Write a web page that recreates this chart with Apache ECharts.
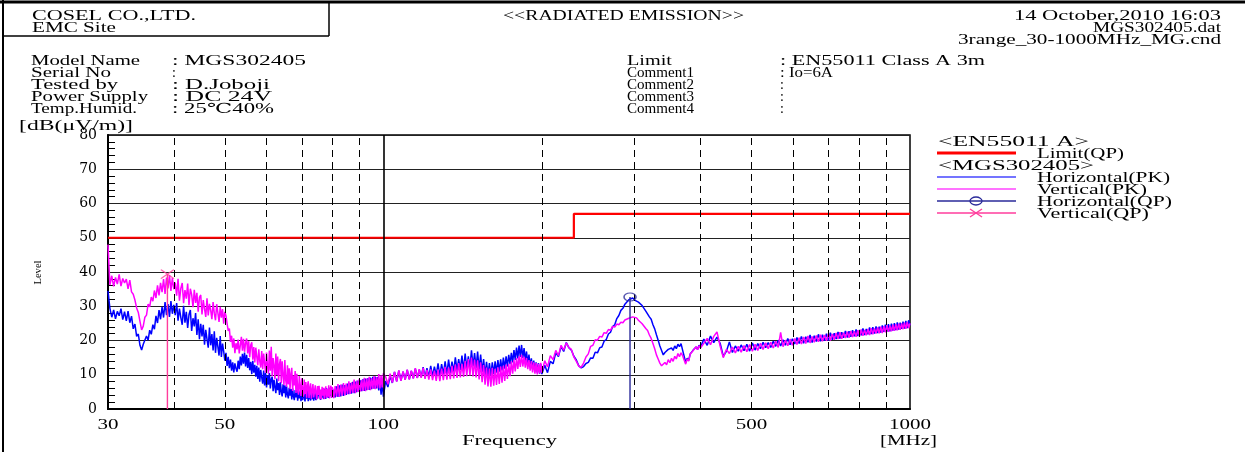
<!DOCTYPE html>
<html><head><meta charset="utf-8">
<script src="https://cdn.jsdelivr.net/npm/echarts/dist/echarts.min.js"></script>
<style>html,body{margin:0;padding:0;background:#fff;overflow:hidden}#c{width:1245px;height:452px}</style>
</head><body><div id="c"></div><script>
// Sweep frequencies [MHz]
const freqs = [
30,30.25,30.5,30.75,31,31.25,31.5,31.75,32,32.25,32.5,32.75,33,33.25,33.5,33.75,34,34.25,34.5,34.75,35,35.25,35.5,35.75,36,36.25,36.5,36.75,37,37.25,37.5,37.75,38,38.25,38.5,38.75,39,39.25,39.5,39.75,40,
40.25,40.5,40.75,41,41.25,41.5,41.75,42,42.25,42.5,42.75,43,43.25,43.5,43.75,44,44.25,44.5,44.75,45,
45.25,45.5,45.75,46,46.25,46.5,46.75,47,47.25,47.5,47.75,48,48.25,48.5,48.75,49,49.25,49.5,49.75,50,
50.25,50.5,50.75,51,51.25,51.5,51.75,52,52.25,52.5,52.75,53,53.25,53.5,53.75,54,54.25,54.5,54.75,55,
55.25,55.5,55.75,56,56.25,56.5,56.75,57,57.25,57.5,57.75,58,58.25,58.5,58.75,59,59.25,59.5,59.75,60,
60.25,60.5,60.75,61,61.25,61.5,61.75,62,62.25,62.5,62.75,63,63.25,63.5,63.75,64,64.25,64.5,64.75,65,
65.25,65.5,65.75,66,66.25,66.5,66.75,67,67.25,67.5,67.75,68,68.25,68.5,68.75,69,69.25,69.5,69.75,70,
70.25,70.5,70.75,71,71.25,71.5,71.75,72,72.25,72.5,72.75,73,73.25,73.5,73.75,74,74.25,74.5,74.75,75,
75.25,75.5,75.75,76,76.25,76.5,76.75,77,77.25,77.5,77.75,78,78.25,78.5,78.75,79,79.25,79.5,79.75,80,
80.5,81,81.5,82,82.5,83,83.5,84,84.5,85,85.5,86,86.5,87,87.5,88,88.5,89,89.5,90,
90.5,91,91.5,92,92.5,93,93.5,94,94.5,95,95.5,96,96.5,97,97.5,98,98.5,99,99.5,100,
101,102,103,104,105,106,107,108,109,110,111,112,113,114,115,116,117,118,119,120,
121,122,123,124,125,126,127,128,129,130,131,132,133,134,135,136,137,138,139,140,
141,142,143,144,145,146,147,148,149,150,151,152,153,154,155,156,157,158,159,160,
161,162,163,164,165,166,167,168,169,170,171,172,173,174,175,176,177,178,179,180,
181,182,183,184,185,186,187,188,189,190,191,192,193,194,195,196,197,198,199,200,
202.5,205,207.5,210,212.5,215,217.5,220,222.5,225,227.5,230,232.5,235,237.5,240,242.5,245,247.5,250,
252.5,255,257.5,260,262.5,265,267.5,270,272.5,275,277.5,280,282.5,285,287.5,290,292.5,295,297.5,300,
302.5,305,307.5,310,312.5,315,317.5,320,322.5,325,327.5,330,332.5,335,337.5,340,342.5,345,347.5,350,
352.5,355,357.5,360,362.5,365,367.5,370,372.5,375,377.5,380,382.5,385,387.5,390,392.5,395,397.5,400,
406,412,418,424,430,436,442,448,454,460,466,472,478,484,490,496,502,508,514,520,
526,532,538,544,550,556,562,568,574,580,586,592,598,604,610,616,622,628,634,640,
646,652,658,664,670,676,682,688,694,700,706,712,718,724,730,736,742,748,754,760,
766,772,778,784,790,796,802,808,814,820,826,832,838,844,850,856,862,868,874,880,
886,892,898,904,910,916,922,928,934,940,946,952,958,964,970,976,982,988,994,1000
];
// Horizontal(PK) [dB(uV/m)]
const hPK = [
34.5,29.4,26.8,28.9,26.3,28.5,27.2,29.3,26.1,28.4,25.7,28.6,25.2,27.1,23.4,24.8,21.2,21.9,18.6,17.2,18.9,18.4,21.3,20.1,23.0,21.8,24.6,23.3,27.2,25.1,28.9,26.2,29.8,26.7,31.2,27.4,30.6,26.9,31.5,27.8,30.4,
27.4,30.9,25.8,29.3,26.7,24.6,30.1,25.2,28.4,23.7,27.6,28.9,22.8,26.5,24.1,28.0,21.6,26.2,20.4,24.9,
21.2,24.6,18.8,23.1,20.4,17.9,23.8,18.6,21.9,17.1,22.7,16.4,20.8,18.2,15.6,21.3,15.2,19.1,16.8,14.1,
16.4,12.6,15.2,11.9,14.4,11.2,13.6,10.7,13.3,11.8,10.9,14.1,11.6,15.3,12.7,16.1,13.2,16.5,12.4,15.8,
12.0,14.9,11.3,13.8,10.2,14.1,10.6,12.9,9.4,12.6,8.8,12.1,8.0,11.4,9.2,7.4,11.2,6.9,10.6,6.3,
9.8,7.1,10.5,6.0,8.7,9.4,5.2,8.5,6.3,4.6,8.9,5.5,7.6,4.1,7.9,5.0,3.7,7.2,4.6,6.9,
3.4,6.6,4.2,3.1,6.2,3.9,5.8,2.8,6.0,3.6,2.6,5.5,3.4,5.7,2.4,4.8,3.1,5.4,2.3,4.9,
2.6,5.3,3.4,2.2,5.0,3.0,5.4,2.3,4.6,3.3,2.5,5.2,2.9,4.7,2.4,5.5,3.2,2.6,5.1,3.0,
2.5,5.4,3.5,2.7,5.6,3.3,5.2,2.9,5.9,3.6,3.0,6.1,3.4,5.5,3.2,6.2,3.8,6.4,3.3,6.0,
6.4,3.4,6.6,3.5,6.9,3.7,7.1,3.8,7.0,4.1,7.4,4.3,7.6,4.5,7.9,4.6,8.0,4.9,8.3,5.0,
8.4,5.2,8.7,5.3,8.9,5.5,9.0,5.6,9.2,5.8,9.4,5.9,9.5,6.0,9.3,5.4,8.8,4.2,7.9,3.6,
8.2,6.4,9.6,7.6,10.8,8.1,11.2,8.3,10.9,8.6,11.4,8.7,11.1,9.0,11.8,9.1,11.5,9.3,12.2,9.2,
11.9,9.4,12.6,9.6,12.4,9.8,13.3,9.7,13.1,10.2,13.9,10.1,14.4,10.5,13.8,10.9,15.1,11.2,14.6,11.4,
15.6,11.3,16.2,11.8,15.4,12.1,17.1,12.4,16.3,12.0,16.8,11.5,15.9,10.8,14.6,9.9,13.8,9.6,13.4,9.7,
13.6,10.2,13.9,10.6,14.3,10.9,14.5,11.3,15.0,11.8,15.4,12.4,15.8,13.1,16.4,13.6,17.2,14.3,17.9,14.8,
18.5,15.2,18.7,14.9,17.8,14.1,16.8,13.2,15.9,12.3,14.8,11.6,14.1,11.0,13.6,10.6,13.4,10.3,13.1,10.2,
12.8,10.6,13.9,13.2,16.4,15.3,18.2,16.8,19.4,17.9,17.2,15.4,14.3,12.6,12.0,12.4,13.3,13.6,14.9,14.8,
16.6,16.4,17.9,18.1,19.8,20.3,21.9,22.4,24.1,24.6,26.4,27.3,28.8,29.4,30.6,31.1,31.9,31.6,32.4,31.8,
32.1,31.2,31.0,30.2,29.8,28.6,28.1,26.9,26.2,24.6,23.4,21.7,20.1,18.4,17.1,15.8,16.5,16.2,17.4,16.9,
17.8,17.1,18.4,17.6,18.9,18.2,19.1,17.2,15.4,13.6,14.8,14.2,16.1,15.6,17.2,16.7,18.1,17.4,18.6,18.0,
20.4,18.6,21.3,19.4,21.0,19.2,15.4,16.8,19.6,16.5,18.4,16.9,18.7,17.0,18.9,16.9,19.3,17.2,19.1,17.6,
19.5,17.9,19.4,18.0,19.8,18.3,20.1,18.4,20.2,18.6,20.6,18.8,20.5,19.0,20.9,19.1,21.2,19.2,21.1,19.5,
21.6,19.4,21.4,19.7,21.8,19.8,21.7,19.9,22.0,20.0,22.3,20.2,22.1,20.4,22.5,20.6,22.4,20.8,22.8,20.9,
22.7,21.1,23.0,21.2,23.2,21.3,23.1,21.5,23.5,21.6,23.4,21.8,23.8,21.9,23.9,22.0,24.1,22.2,24.0,22.3,
24.4,22.5,24.6,22.6,24.8,22.7,24.9,22.9,25.1,23.0,25.3,23.2,25.2,23.4,25.5,23.5,25.7,23.6,25.9,24.4
];
// Vertical(PK) [dB(uV/m)]
const vPK = [
48.0,36.2,38.9,35.8,38.4,36.5,39.3,35.9,38.1,36.8,37.9,35.1,37.6,34.2,33.5,31.8,29.5,28.2,25.6,23.1,24.2,26.8,27.4,30.6,29.8,32.7,31.5,34.6,32.4,36.1,33.2,36.8,34.1,37.9,33.6,38.4,35.2,39.1,34.5,38.2,35.0,
36.9,33.1,38.0,31.6,35.2,36.8,30.9,34.7,32.2,36.6,30.3,35.1,33.4,29.7,34.8,31.0,33.9,28.4,32.6,33.3,
27.6,31.8,29.2,26.9,32.3,27.3,30.7,28.8,26.2,31.2,27.9,25.9,30.6,28.1,25.4,29.8,26.7,29.2,24.9,28.4,
27.2,24.9,22.8,23.5,19.6,21.4,17.9,20.6,16.3,19.2,17.4,20.3,16.2,18.6,21.1,17.0,20.5,16.7,19.3,20.6,
16.2,19.8,15.1,18.7,19.5,14.4,18.1,13.6,17.9,15.2,12.8,17.4,14.0,12.1,16.9,11.6,16.2,13.3,10.6,16.5,
12.4,10.3,17.1,11.2,18.2,9.6,14.9,12.6,8.7,16.2,9.9,15.3,8.1,13.2,14.6,7.6,13.9,9.8,7.0,14.3,
8.4,6.5,12.8,7.2,11.9,5.8,10.2,12.0,5.3,9.8,6.9,11.1,4.7,10.3,5.9,4.2,9.6,6.4,3.8,9.0,
5.1,3.6,8.6,4.4,7.9,3.3,6.6,8.1,3.2,6.1,7.5,3.0,5.4,7.3,3.4,2.9,6.9,4.6,2.8,6.7,
4.1,6.8,3.0,5.7,2.8,6.5,3.9,6.2,2.9,5.1,6.6,3.2,5.8,3.6,6.9,3.1,5.4,6.8,3.3,6.4,
3.2,6.7,3.6,7.3,3.5,7.1,3.9,7.6,4.0,7.4,4.3,8.1,4.4,7.8,4.7,8.6,4.6,8.3,5.0,8.8,
5.1,8.5,5.3,9.1,5.2,8.9,5.6,9.4,5.5,9.0,5.9,9.6,5.8,9.3,6.1,10.2,6.0,9.8,6.3,10.4,
9.4,7.2,10.3,7.7,10.8,8.0,11.3,8.2,11.0,8.5,11.5,8.6,11.2,8.9,11.9,9.0,11.6,9.1,12.0,8.8,
11.4,8.6,11.6,8.4,11.2,8.2,11.5,8.1,11.8,8.4,12.3,8.6,12.1,8.7,12.6,8.9,13.0,9.1,13.4,9.2,
13.2,9.4,14.1,9.6,14.6,9.8,15.0,9.5,14.4,9.2,14.2,8.6,13.6,7.8,12.8,7.1,12.1,6.6,11.8,6.5,
12.0,6.8,11.7,7.0,12.2,7.3,12.4,7.7,12.6,8.2,13.0,8.8,13.2,9.6,13.9,10.3,14.3,11.0,14.9,11.7,
15.4,12.3,15.8,12.4,15.2,12.1,14.9,11.6,14.3,11.2,14.0,10.7,13.6,10.3,13.4,10.1,13.2,10.4,13.5,10.6,
14.1,12.3,15.6,14.4,17.1,15.6,18.6,17.2,19.3,18.0,17.4,15.2,13.9,12.5,12.2,13.4,15.2,16.1,18.3,18.6,
20.2,20.1,21.2,21.0,22.3,22.1,23.2,23.0,24.1,23.9,24.8,24.6,25.3,25.2,26.0,25.8,26.5,26.3,26.9,26.4,
26.6,25.9,25.7,24.9,24.6,23.5,22.9,21.6,20.6,19.1,17.6,15.8,14.6,13.4,12.6,12.4,13.6,12.9,14.4,13.5,
14.8,13.9,15.4,14.6,16.2,15.3,16.4,15.6,14.3,13.1,14.6,14.0,16.0,15.5,17.1,16.6,18.2,17.3,18.5,17.8,
19.2,20.6,18.8,21.2,22.5,18.4,15.0,17.4,16.2,18.1,16.4,18.3,16.6,18.5,16.7,18.8,16.9,18.9,17.1,19.2,
17.4,19.3,17.6,19.5,17.8,19.8,18.0,22.4,18.2,20.1,18.5,20.4,18.6,20.6,18.8,20.8,19.0,21.0,19.1,21.3,
19.3,21.2,19.5,21.5,19.6,21.7,19.8,21.6,19.9,22.0,20.0,21.9,20.2,22.2,20.4,22.4,20.5,22.3,20.7,22.6,
20.8,22.8,21.0,22.7,21.1,23.0,21.2,23.2,21.4,23.1,21.5,23.4,21.6,23.6,21.8,23.5,22.0,23.8,22.1,24.0,
22.2,24.2,22.4,24.4,22.5,24.3,22.7,24.6,22.8,24.8,23.0,24.9,23.1,25.0,23.3,25.2,23.4,25.4,23.6,25.0
];
const limitQP = [[30,50],[230,50],[230,57],[1000,57]];
const hQP = [[294,32.7]];
const vQP = [[38.9,39.4]];
const xTickLabels = [30,50,100,500,1000];
const xGridDashed = [40,50,60,70,80,90,200,300,400,500,600,700,800,900];
const xGridSolid = [100];

if (hPK.length !== freqs.length || vPK.length !== freqs.length) {
  throw new Error('length mismatch ' + freqs.length + ' ' + hPK.length + ' ' + vPK.length);
}

const AXFONT = '"DejaVu Serif", "Liberation Serif", serif';
const FONT = '"Liberation Serif", "DejaVu Serif", serif';
const chart = echarts.init(document.getElementById('c'), null, {renderer:'canvas'});

const stem = (pts) => pts.reduce((a,p) => a.concat([[p[0],0],[p[0],p[1]],null]), []).slice(0,-1);

chart.setOption({
  animation:false,
  backgroundColor:'#fff',
  grid:{left:108, top:135, width:802, height:274, show:true, borderColor:'#000', borderWidth:1.5, containLabel:false, outerBoundsMode:'none'},
  xAxis:{type:'log', logBase:10, min:30, max:1000,
    axisLine:{show:true, onZero:false, lineStyle:{color:'#000', width:2}},
    axisTick:{show:false}, axisLabel:{show:false}, splitLine:{show:false}, minorTick:{show:false}},
  yAxis:{type:'value', min:0, max:80, interval:10,
    axisLine:{show:true, lineStyle:{color:'#000', width:2}},
    axisTick:{show:false, inside:true},
    minorTick:{show:true, splitNumber:5, length:7, lineStyle:{color:'#000', width:1}},
    axisLabel:{color:'#000', fontFamily:AXFONT, fontSize:14, margin:11},
    splitLine:{show:true, lineStyle:{color:'#222', width:1}}},
  series:[
    {type:'line', name:'grid', data:[], silent:true, z:1,
      markLine:{silent:true, symbol:['none','none'], animation:false, label:{show:false},
        lineStyle:{color:'#000', type:[7,5], width:1},
        data: xGridDashed.map(v=>({xAxis:v})).concat(xGridSolid.map(v=>({xAxis:v, lineStyle:{type:'solid', width:1.6, color:'#000'}})))}},
    {type:'line', name:'Horizontal(PK)', data: freqs.map((f,i)=>[f,hPK[i]]), symbol:'none', z:2,
      lineStyle:{color:'#0000ff', width:1.5}},
    {type:'line', name:'Vertical(PK)', data: freqs.map((f,i)=>[f,vPK[i]]), symbol:'none', z:3,
      lineStyle:{color:'#ff00ff', width:1.5}},
    {type:'line', name:'Limit(QP)', data: limitQP, symbol:'none', z:4,
      lineStyle:{color:'#ff0000', width:2.2}},
    {type:'line', name:'hQPstem', data: stem(hQP), symbol:'none', z:5, connectNulls:false,
      lineStyle:{color:'#2a2a9a', width:1.4}},
    {type:'line', name:'vQPstem', data: stem(vQP), symbol:'none', z:5, connectNulls:false,
      lineStyle:{color:'#ff3c9c', width:1.4}},
    {type:'scatter', name:'Horizontal(QP)', data: hQP, symbol:'circle', symbolSize:[12,8], z:6,
      itemStyle:{color:'rgba(0,0,0,0)', borderColor:'#2a2a9a', borderWidth:1.3}},
    {type:'scatter', name:'Vertical(QP)', data: vQP, symbol:'path://M0,0L10,10M10,0L0,10', symbolSize:[13,9], z:6,
      itemStyle:{color:'rgba(0,0,0,0)', borderColor:'#ff3c9c', borderWidth:1.3}}
  ]
});

// ---- text / frame graphics ----
const mctx = document.createElement('canvas').getContext('2d');
const DY = 1.5;
function txt(s, x, y, w, size, align, extra) {
  size = size || 14; align = align || 'left';
  const font = size + 'px ' + FONT;
  mctx.font = font;
  const m = mctx.measureText(s).width || 1;
  const o = {type:'text', x:x, y:y + DY, scaleX: w ? w/m : 1, silent:true, z:100,
    style:{text:s, font:font, fill:'#000', textAlign:align, align:align, textVerticalAlign:'middle', verticalAlign:'middle'}};
  return Object.assign(o, extra || {});
}
function ln(x1,y1,x2,y2,color,w){
  return {type:'line', silent:true, z:100, shape:{x1:x1,y1:y1,x2:x2,y2:y2}, style:{stroke:color, lineWidth:w}};
}
const g = [];
// frame
g.push(ln(0,2,1245,2,'#000',3));
g.push(ln(3,0,3,452,'#000',2));
g.push(ln(329,2,329,36,'#000',1.5));
g.push(ln(3,36,329,36,'#000',1.5));
// header
g.push(txt('COSEL CO.,LTD.',32,15,164));
g.push(txt('EMC Site',32,27,84));
g.push(txt('<<RADIATED EMISSION>>',503,15,241));
g.push(txt('14 October,2010 16:03',1014,15,207));
g.push(txt('MGS302405.dat',1093,27,128));
g.push(txt('3range_30-1000MHz_MG.cnd',958,39,263));
// info left
g.push(txt('Model Name',31,60,109));
g.push(txt(': MGS302405',172,60,134));
g.push(txt('Serial No',31,72,80));
g.push(txt(':',172,72,0));
g.push(txt('Tested by',31,84,87));
g.push(txt(': D.Joboji',172,84,98));
g.push(txt('Power Supply',31,96,117));
g.push(txt(': DC 24V',172,96,100));
g.push(txt('Temp.Humid.',31,108,106));
g.push(txt(': 25℃40%',172,108,102));
// info right
g.push(txt('Limit',627,60,45));
g.push(txt(': EN55011 Class A 3m',780,60,205));
g.push(txt('Comment1',627,72,67));
g.push(txt(': Io=6A',780,72,53));
g.push(txt('Comment2',627,84,67));
g.push(txt(':',780,84,0));
g.push(txt('Comment3',627,96,67));
g.push(txt(':',780,96,0));
g.push(txt('Comment4',627,108,67));
g.push(txt(':',780,108,0));
g.push(txt('[dB(μV/m)]',19,125,114));
// axis titles
g.push(txt('Level',38,271,24,11,'center',{rotation:Math.PI/2}));
g.push(txt('Frequency',462,440,95));
g.push(txt('[MHz]',880,440,57));
// x tick labels through the axis scale
xTickLabels.forEach(f => {
  const px = chart.convertToPixel({xAxisIndex:0}, f);
  g.push(txt(String(f), px, 424, String(f).length*10.5, 14, 'center'));
});
// legend
g.push(txt('<EN55011 A>',938,141,151));
g.push(ln(937,153,1016,153,'#ff0000',3));
g.push(txt('Limit(QP)',1037,153,87));
g.push(txt('<MGS302405>',938,165,156));
g.push(ln(937,177,1016,177,'#4646ff',1.5));
g.push(txt('Horizontal(PK)',1037,177,133));
g.push(ln(937,189,1016,189,'#ff44ff',1.5));
g.push(txt('Vertical(PK)',1037,189,110));
g.push(ln(937,201,1016,201,'#2a2a9a',1.5));
g.push({type:'ellipse', silent:true, z:101, shape:{cx:976, cy:201, rx:6, ry:4}, style:{fill:'none', stroke:'#2a2a9a', lineWidth:1.3}});
g.push(txt('Horizontal(QP)',1037,201,135));
g.push(ln(937,213,1016,213,'#ff3c9c',1.5));
g.push(ln(970,209,982,217,'#ff3c9c',1.3));
g.push(ln(970,217,982,209,'#ff3c9c',1.3));
g.push(txt('Vertical(QP)',1037,213,112));

chart.setOption({graphic: g});
</script></body></html>
